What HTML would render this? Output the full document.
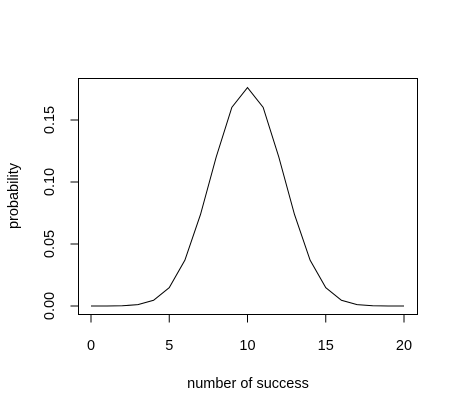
<!DOCTYPE html>
<html><head><meta charset="utf-8"><style>
body{margin:0;background:#fff}
svg{display:block;font-family:"Liberation Sans",Arial,sans-serif}
</style></head><body>
<svg width="458" height="413">
<g id="g"></g>
</svg>
<script>
const categories=[0,1,2,3,4,5,6,7,8,9,10,11,12,13,14,15,16,17,18,19,20];
const probabilities=[0.00000095,0.0000191,0.000181,0.001087,0.004621,0.014786,0.036964,0.073929,0.120134,0.160179,0.176197,0.160179,0.120134,0.073929,0.036964,0.014786,0.004621,0.001087,0.000181,0.0000191,0.00000095];
const xTicks=[0,5,10,15,20];
const yTicks=[0,0.05,0.10,0.15];
const yTickLabels=["0.00","0.05","0.10","0.15"];
const NS="http://www.w3.org/2000/svg";
const g=document.getElementById('g');
const X=v=>91+v*(404-91)/20;
const Y=v=>306-v*(306-120)/0.15;
function mk(t,a){const e=document.createElementNS(NS,t);for(const k in a)e.setAttribute(k,a[k]);g.appendChild(e);return e;}
let box=mk('rect',{x:78.5,y:78.5,width:339,height:236,fill:'none',stroke:'#000','stroke-width':1});


let pts=categories.map((c,i)=>X(c)+','+Y(probabilities[i])).join(' ');
let line=mk('polyline',{points:pts,fill:'none',stroke:'#000','stroke-width':1});


let xa=mk('line',{x1:X(xTicks[0]),x2:X(xTicks[xTicks.length-1]),y1:314.5,y2:314.5,stroke:'#000'});


xTicks.forEach(t=>{
 const tk=mk('line',{x1:X(t),x2:X(t),y1:314.5,y2:322.5,stroke:'#000'});
 
 
 const tx=mk('text',{x:X(t),y:350,'text-anchor':'middle','font-size':14.5});
 tx.textContent=t;
 
 
});
let ya=mk('line',{x1:78.5,x2:78.5,y1:Y(yTicks[0]),y2:Y(yTicks[yTicks.length-1]),stroke:'#000'});


yTicks.forEach((t,i)=>{
 const y=Y(t);
 const tk=mk('line',{x1:70.5,x2:78.5,y1:y,y2:y,stroke:'#000'});
 
 
 const tx=mk('text',{x:0,y:0,'text-anchor':'middle','font-size':14.5,transform:`translate(54,${y}) rotate(-90)`});
 tx.textContent=yTickLabels[i];
 
 
});
let xt=mk('text',{x:248,y:388,'text-anchor':'middle','font-size':14.5});
xt.textContent='number of success';


let yt=mk('text',{x:0,y:0,'text-anchor':'middle','font-size':14.5,transform:'translate(18,196) rotate(-90)'});
yt.textContent='probability';


</script>
</body></html>
